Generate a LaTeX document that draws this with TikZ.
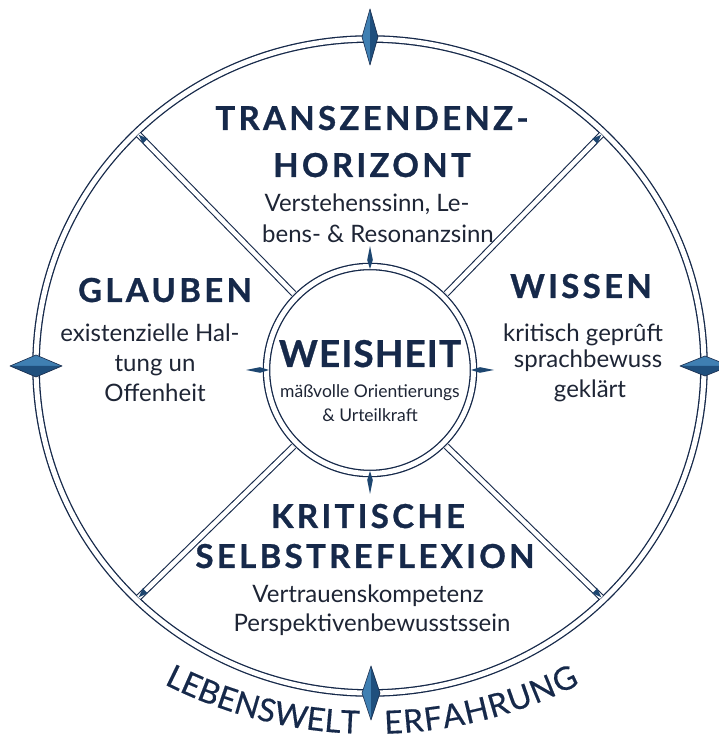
\documentclass[tikz,border=0pt]{standalone}
\usepackage{fontspec}
\setmainfont{Lato}
\newfontfamily\titlefont{Lato}[LetterSpace=10,BoldFeatures={FakeBold=0.8}]
\newfontfamily\wfont{Lato}[LetterSpace=3,BoldFeatures={FakeBold=0.8}]
\newfontfamily\arcfont{Lato}[FakeBold=0.4]
\usetikzlibrary{shapes.geometric,decorations.text,calc}
\definecolor{navy}{HTML}{16294A}
\definecolor{ink}{HTML}{1E2535}
\definecolor{dlight}{HTML}{3F7FB2}
\definecolor{ddark}{HTML}{1F4F7D}
\definecolor{spikec}{HTML}{1D4670}
\newcommand\vdiam[4]{%
  \fill[dlight] (#1,#2+#4) -- (#1-#3,#2) -- (#1,#2-#4) -- cycle;
  \fill[ddark] (#1,#2+#4) -- (#1+#3,#2) -- (#1,#2-#4) -- cycle;
  \draw[navy,line width=0.6pt,line join=round] (#1,#2+#4) -- (#1-#3,#2) -- (#1,#2-#4) -- (#1+#3,#2) -- cycle;}
\newcommand\hdiam[4]{%
  \fill[dlight] (#1-#3,#2) -- (#1,#2+#4) -- (#1+#3,#2) -- cycle;
  \fill[ddark] (#1-#3,#2) -- (#1,#2-#4) -- (#1+#3,#2) -- cycle;
  \draw[navy,line width=0.6pt,line join=round] (#1-#3,#2) -- (#1,#2+#4) -- (#1+#3,#2) -- (#1,#2-#4) -- cycle;}
\begin{document}
\begin{tikzpicture}[x=1pt,y=1pt,
  ring/.style={draw=navy,line width=1.3pt,double=white,double distance=5pt,inner sep=0pt},
  dline/.style={draw=navy,line width=1.1pt,double=white,double distance=4.5pt},
  title/.style={font=\titlefont\bfseries\fontsize{33}{36}\selectfont,text=navy,anchor=base,inner sep=0pt},
  wtitle/.style={font=\wfont\bfseries\fontsize{37}{40}\selectfont,text=navy,anchor=base,inner sep=0pt},
  body/.style={font=\fontsize{24}{28}\selectfont,text=ink,anchor=base,inner sep=0pt},
  small/.style={font=\fontsize{17.5}{20}\selectfont,text=ink,anchor=base,inner sep=0pt}]
\fill[white] (0,0) rectangle (719,742);
\useasboundingbox (0,0) rectangle (719,742);
% circles
\node[ring,ellipse,minimum width=668pt,minimum height=654pt] (outer) at (370,376) {};
\node[ring,circle,minimum size=207pt] (inner) at (370,372) {};
% diagonals
\foreach \a in {45,135,225,315}{
  \draw[dline,shorten <=3.8pt,shorten >=3.8pt] (inner.\a) -- (outer.\a);
}
% wedges at the diagonal ends
\foreach \a in {45,135,225,315}{
  \fill[spikec,rotate around={\a:(370,376)}] (370+318,376-3.5) -- (370+327,376) -- (370+318,376+3.5) -- cycle;
}
% spikes on inner circle
\foreach \a in {0,90,180,270}{
  \fill[spikec,rotate around={\a:(370,372)}] (370+101,372) -- (370+110,372+2.8) -- (370+124,372) -- (370+110,372-2.8) -- cycle;
}
% compass diamonds
\vdiam{370}{705}{8}{28}
\vdiam{371}{49}{9}{27}
\hdiam{36}{376}{26}{11}
\hdiam{705}{376}{25}{10}
% texts
\node[title] (t1) at (372,612) {TRANSZENDENZ-};
\node[title] (t2) at (372,565) {HORIZONT};
\node[body] (t3) at (367,530) {Verstehenssinn, Le-};
\node[body] (t4) at (378,499) {bens- \& Resonanzsinn};
\node[title] (g1) at (165,440) {GLAUBEN};
\node[body] (g2) at (150,400) {existenzielle Hal-};
\node[body] (g3) at (155,370) {tung un};
\node[body] (g4) at (155,340) {Offenheit};
\node[title] (w1) at (581,444) {WISSEN};
\node[body] (w2) at (583,400) {kritisch geprûft};
\node[body] (w3) at (588,374) {sprachbewuss};
\node[body] (w4) at (590,344) {geklärt};
\node[wtitle] (c1) at (370,375) {WEISHEIT};
\node[small] (c2) at (370,344) {mäßvolle Orientierungs};
\node[small] (c3) at (370,320) {\& Urteilkraft};
\node[title] (k1) at (368,214) {KRITISCHE};
\node[title] (k2) at (365,174) {SELBSTREFLEXION};
\node[body] (k3) at (368,139) {Vertrauenskompetenz};
\node[body] (k4) at (372,110) {Perspektivenbewusstssein};
% arc text
\coordinate (tc) at (372,466);
\path[decorate,decoration={text along path,text align={fit to path},
  text={|\arcfont\fontsize{32}{34}\selectfont\color{navy}|LEBENSWELT}}]
  ($(tc)+(243:458pt)$) arc[start angle=243,end angle=268.2,radius=458pt];
\path[decorate,decoration={text along path,text align={fit to path},
  text={|\arcfont\fontsize{32}{34}\selectfont\color{navy}|ERFAHRUNG}}]
  ($(tc)+(271.6:458pt)$) arc[start angle=271.6,end angle=297,radius=458pt];
\end{tikzpicture}
\end{document}
